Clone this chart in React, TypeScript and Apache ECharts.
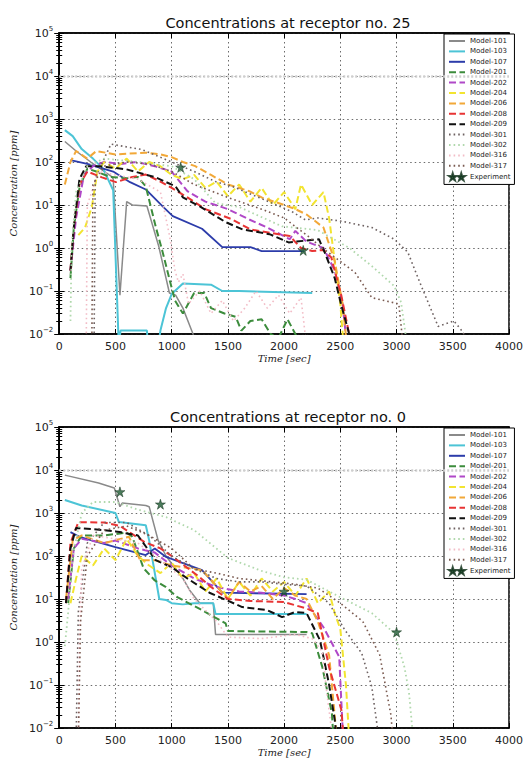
import React, { useEffect, useRef } from "react";
import * as echarts from "echarts";

// ---------- names ----------
const MODELS = [
  "Model-101", "Model-103", "Model-107", "Model-201", "Model-202", "Model-204", "Model-206",
  "Model-208", "Model-209", "Model-301", "Model-302", "Model-316", "Model-317",
];
const EXP = "Experiment";
const TITLES = ["Concentrations at receptor no. 25", "Concentrations at receptor no. 0"];

// ---------- receptor 25 : [time sec, concentration ppm] ----------
const r25_101 = [[50, 300], [150, 180], [280, 100], [470, 45], [480, 40], [540, 0.08], [600, 12], [650, 10], [780, 9.5], [885, 1.1], [980, 0.09], [1035, 0.08], [1100, 0.04], [1190, 0.01], [1220, 0.005]];
const r25_103 = [[50, 550], [120, 400], [200, 200], [300, 120], [390, 70], [480, 22], [530, 0.005], [545, 0.012], [780, 0.012], [790, 0.005], [880, 0.005], [900, 0.012], [950, 0.04], [1000, 0.085], [1100, 0.15], [1350, 0.14], [1450, 0.1], [1600, 0.1], [2250, 0.09]];
const r25_107 = [[100, 110], [250, 90], [480, 60], [630, 34], [770, 23], [920, 9.3], [1010, 5.5], [1270, 2.8], [1450, 1.05], [1700, 1.05], [1800, 0.85], [2180, 0.85]];
const r25_201 = [[100, 0.2], [130, 3], [180, 25], [250, 70], [330, 60], [450, 45], [600, 42], [700, 45], [770, 27], [860, 3], [920, 0.8], [980, 0.19], [1030, 0.06], [1100, 0.03], [1200, 0.09], [1290, 0.09], [1350, 0.04], [1470, 0.03], [1570, 0.025], [1620, 0.012], [1700, 0.02], [1800, 0.022], [1880, 0.01], [1950, 0.008], [2030, 0.022], [2100, 0.01], [2150, 0.005]];
const r25_202 = [[100, 0.3], [150, 5], [220, 50], [300, 80], [400, 100], [550, 90], [690, 100], [850, 80], [1000, 60], [1140, 21], [1300, 12], [1500, 8], [1690, 4.6], [1850, 3], [2050, 1.6], [2100, 2.5], [2200, 1.4], [2350, 1], [2450, 0.3], [2520, 0.05], [2560, 0.005]];
const r25_204 = [[170, 2], [230, 3], [290, 9], [340, 60], [400, 100], [500, 70], [600, 120], [700, 60], [800, 100], [900, 80], [1000, 50], [1100, 40], [1200, 50], [1300, 25], [1400, 35], [1500, 16], [1600, 30], [1700, 12], [1800, 25], [1900, 10], [2000, 20], [2100, 8], [2150, 30], [2250, 10], [2350, 20], [2400, 5], [2450, 0.5], [2500, 0.05], [2530, 0.005]];
const r25_206 = [[50, 30], [100, 100], [150, 180], [250, 120], [330, 180], [500, 150], [770, 165], [900, 150], [1000, 130], [1100, 100], [1210, 80], [1350, 50], [1500, 30], [1690, 21], [1800, 15], [2000, 10], [2100, 8], [2200, 6], [2350, 3], [2450, 0.5], [2520, 0.05], [2560, 0.005]];
const r25_208 = [[100, 0.3], [130, 3], [180, 30], [250, 60], [380, 44], [505, 34], [650, 45], [770, 51], [900, 35], [1000, 25], [1140, 15], [1300, 8], [1540, 4.6], [1700, 2.7], [1900, 2.2], [2050, 1.9], [2150, 1.0], [2250, 0.85], [2350, 0.9], [2420, 0.6], [2510, 0.076], [2575, 0.011], [2590, 0.005]];
const r25_209 = [[100, 0.3], [130, 3], [180, 40], [240, 80], [354, 80], [593, 68], [858, 44], [1035, 27], [1100, 15], [1250, 9.3], [1480, 4], [1630, 2.7], [1870, 2.1], [2040, 1.35], [2100, 1.4], [2310, 1.6], [2360, 0.8], [2450, 0.2], [2510, 0.045], [2575, 0.011], [2590, 0.005]];
const r25_301 = [[310, 0.005], [320, 40], [400, 120], [460, 260], [735, 195], [1000, 100], [1200, 60], [1390, 35], [1540, 27], [1830, 13], [2070, 7], [2190, 4.5], [2300, 5], [2510, 4.2], [2780, 3], [2980, 1.6], [3100, 0.8], [3220, 0.13], [3370, 0.015], [3510, 0.02], [3580, 0.012], [3620, 0.008]];
const r25_302 = [[100, 0.02], [110, 1], [150, 20], [250, 80], [400, 120], [700, 100], [1000, 80], [1200, 40], [1390, 11], [1600, 9], [1980, 3.2], [2300, 2.6], [2580, 1], [2780, 0.38], [2980, 0.13], [3040, 0.055], [3080, 0.01], [3100, 0.005]];
const r25_316 = [[240, 0.005], [250, 10], [350, 60], [500, 50], [700, 40], [900, 20], [980, 2], [1030, 0.3], [1060, 0.16], [1100, 0.25], [1150, 0.05], [1250, 0.1], [1350, 0.03], [1450, 0.06], [1550, 0.02], [1650, 0.04], [1750, 0.1], [1850, 0.04], [1950, 0.08], [2050, 0.03], [2150, 0.07], [2200, 0.005]];
const r25_317 = [[290, 0.005], [300, 30], [400, 80], [600, 100], [800, 90], [1000, 60], [1200, 30], [1500, 15], [1800, 8], [2000, 5], [2200, 2], [2340, 1], [2630, 0.27], [2780, 0.07], [3020, 0.05], [3060, 0.005]];
const r25_exp = [[1080, 75], [2170, 0.88]];

// ---------- receptor 0 ----------
const r0_101 = [[50, 7600], [350, 5000], [490, 3800], [540, 1400], [560, 1700], [770, 1500], [800, 1400], [880, 230], [950, 100], [1100, 30], [1160, 16], [1250, 8], [1370, 8], [1390, 1.5], [2200, 1.5]];
const r0_103 = [[50, 2000], [200, 1500], [500, 1000], [530, 620], [770, 520], [800, 230], [890, 10], [950, 9.5], [1000, 8], [1100, 7.5], [1200, 8], [1370, 8], [1390, 4.5], [2200, 4.5]];
const r0_107 = [[100, 360], [180, 280], [500, 160], [770, 105], [850, 150], [950, 95], [1270, 47], [1450, 14], [2200, 13]];
const r0_201 = [[80, 8], [130, 150], [200, 300], [400, 300], [600, 350], [650, 280], [750, 52], [850, 27], [950, 19], [1050, 11], [1270, 5.5], [1480, 2.7], [1500, 1.8], [2200, 1.7], [2250, 1.6], [2340, 0.26], [2425, 0.022], [2440, 0.005]];
const r0_202 = [[80, 10], [130, 150], [200, 250], [400, 200], [500, 230], [700, 150], [850, 120], [1000, 60], [1200, 30], [1400, 19], [1600, 15], [1800, 14], [2000, 12], [2100, 10], [2200, 8], [2350, 2.2], [2490, 0.45], [2520, 0.01], [2530, 0.005]];
const r0_204 = [[100, 8], [150, 30], [200, 100], [300, 60], [400, 150], [500, 80], [600, 250], [700, 100], [800, 60], [900, 40], [1000, 70], [1100, 30], [1200, 40], [1300, 15], [1400, 30], [1500, 10], [1600, 25], [1700, 12], [1800, 30], [1900, 15], [2000, 25], [2100, 12], [2200, 30], [2300, 8], [2400, 15], [2450, 4.7], [2500, 2], [2550, 0.1], [2580, 0.005]];
const r0_206 = [[60, 10], [120, 230], [200, 300], [400, 200], [620, 280], [720, 80], [850, 80], [1000, 60], [1270, 47], [1400, 20], [1500, 10], [1600, 25], [1700, 15], [1800, 20], [1900, 10], [2000, 18], [2100, 12], [2200, 10], [2300, 3], [2400, 0.5], [2460, 0.01], [2470, 0.005]];
const r0_208 = [[60, 8], [100, 200], [170, 610], [400, 600], [540, 500], [760, 210], [900, 150], [1000, 100], [1250, 32], [1350, 19], [1500, 10], [1700, 9], [2000, 8.5], [2200, 6], [2300, 4.7], [2400, 0.26], [2510, 0.026], [2530, 0.005]];
const r0_209 = [[60, 8], [100, 150], [150, 450], [400, 400], [540, 360], [700, 300], [858, 80], [1000, 55], [1124, 32], [1336, 14], [1628, 6.5], [1850, 5.5], [1982, 3.8], [2100, 5], [2200, 4.7], [2319, 1.1], [2398, 0.11], [2451, 0.015], [2470, 0.005]];
const r0_301 = [[150, 0.005], [170, 5], [250, 200], [400, 600], [600, 600], [800, 300], [1000, 100], [1200, 50], [1400, 30], [1600, 25], [1800, 25], [2000, 22], [2200, 20], [2400, 8], [2540, 1.9], [2690, 0.55], [2780, 0.09], [2830, 0.01], [2850, 0.005]];
const r0_302 = [[50, 0.8], [80, 5], [120, 100], [200, 1000], [300, 1800], [500, 1800], [700, 1200], [950, 800], [1200, 400], [1500, 90], [1800, 45], [2000, 32], [2200, 28], [2500, 11], [2780, 4.7], [2980, 1.6], [3070, 0.26], [3110, 0.07], [3150, 0.005]];
const r0_316 = [[170, 0.005], [180, 1], [200, 50], [300, 300], [500, 250], [700, 200], [900, 80], [1100, 30], [1200, 10], [1400, 3], [1500, 1.3], [1800, 1.2], [2100, 1.5], [2250, 1.2], [2340, 0.6], [2380, 0.065], [2420, 0.01], [2430, 0.005]];
const r0_317 = [[170, 0.005], [190, 3], [250, 100], [400, 400], [600, 500], [800, 300], [1000, 150], [1200, 50], [1400, 40], [1600, 30], [1900, 25], [2100, 22], [2300, 18], [2500, 8], [2700, 3], [2850, 0.5], [2950, 0.02], [2970, 0.005]];
const r0_exp = [[540, 3100], [900, 1600], [2000, 15], [3000, 1.7]];

const PLOT_DATA = [
  [r25_101, r25_103, r25_107, r25_201, r25_202, r25_204, r25_206, r25_208, r25_209, r25_301, r25_302, r25_316, r25_317],
  [r0_101, r0_103, r0_107, r0_201, r0_202, r0_204, r0_206, r0_208, r0_209, r0_301, r0_302, r0_316, r0_317],
];
const EXP_DATA = [r25_exp, r0_exp];

// ---------- styles ----------
const DASH = [7, 3.5];
const DOT = [1.6, 3];
const STYLE: Record<string, { color: string; type: any; width: number }> = {
  "Model-101": { color: "#8a8a8a", type: "solid", width: 1.5 },
  "Model-103": { color: "#4cc4d6", type: "solid", width: 2 },
  "Model-107": { color: "#2c3caa", type: "solid", width: 1.8 },
  "Model-201": { color: "#3c8c3c", type: DASH, width: 2 },
  "Model-202": { color: "#b048c8", type: DASH, width: 2 },
  "Model-204": { color: "#f2e430", type: DASH, width: 2 },
  "Model-206": { color: "#f2a838", type: DASH, width: 2 },
  "Model-208": { color: "#e83434", type: DASH, width: 2 },
  "Model-209": { color: "#111111", type: DASH, width: 2 },
  "Model-301": { color: "#6e6262", type: DOT, width: 1.6 },
  "Model-302": { color: "#b0d8ac", type: DOT, width: 1.8 },
  "Model-316": { color: "#f2bcc6", type: DOT, width: 1.6 },
  "Model-317": { color: "#7a5a50", type: DOT, width: 1.6 },
};
const STAR = "path://M50,2 L61,37 L98,37 L68,59 L79,95 L50,73 L21,95 L32,59 L2,37 L39,37 Z";
const TWO_STARS =
  "path://M50,2 L61,37 L98,37 L68,59 L79,95 L50,73 L21,95 L32,59 L2,37 L39,37 Z " +
  "M160,2 L171,37 L208,37 L178,59 L189,95 L160,73 L131,95 L142,59 L112,37 L149,37 Z";

const GRID_TOPS = [33, 427];

function sup(e: number) {
  return e < 0 ? "\u2212" + -e : String(e);
}

function buildOption() {
  const grid = GRID_TOPS.map((top) => ({
    left: 56, top, width: 453, height: 301, show: true,
    borderColor: "#000", borderWidth: 1.5, backgroundColor: "transparent",
  }));
  const xAxis: any[] = [];
  const yAxis: any[] = [];
  GRID_TOPS.forEach((_, gi) => {
    xAxis.push({
      type: "value", gridIndex: gi, min: 0, max: 4000, interval: 500,
      axisLine: { show: true, lineStyle: { color: "#000", width: 1.5 } },
      axisTick: { show: true, inside: true, length: 5, lineStyle: { color: "#000" } },
      axisLabel: { color: "#222", fontSize: 11, margin: 7, fontFamily: "DejaVu Sans",
        formatter: (v: number) => String(v) },
      splitLine: { show: true, lineStyle: { color: "#6a6a6a", type: [1.5, 3], width: 1 } },
      name: "Time [sec]", nameLocation: "middle", nameGap: 19,
      nameTextStyle: { fontFamily: "DejaVu Serif", fontStyle: "italic", fontSize: 10, color: "#222" },
    });
    xAxis.push({
      type: "value", gridIndex: gi, min: 0, max: 4000, interval: 500, position: "top",
      axisLine: { show: true, lineStyle: { color: "#000", width: 1.5 } },
      axisTick: { show: true, inside: true, length: 5, lineStyle: { color: "#000" } },
      axisLabel: { show: false }, splitLine: { show: false },
    });
    const yBase = {
      type: "log", logBase: 10, gridIndex: gi, min: 0.01, max: 100000, splitNumber: 7,
      axisLine: { show: true, lineStyle: { color: "#000", width: 1.5 } },
      axisTick: { show: true, inside: true, length: 5, lineStyle: { color: "#000" } },
      minorTick: { show: true, splitNumber: 9, length: 3, lineStyle: { color: "#000" } },
    };
    yAxis.push({
      ...yBase,
      axisLabel: {
        color: "#222", margin: 6,
        formatter: (v: number) => `{b|10}{s|${sup(Math.round(Math.log10(v)))}}`,
        rich: {
          b: { fontSize: 11, fontFamily: "DejaVu Sans", color: "#222" },
          s: { fontSize: 7, fontFamily: "DejaVu Sans", color: "#222", padding: [0, 0, 8, 0] },
        },
      },
      splitLine: { show: true, lineStyle: { color: "#6a6a6a", type: [1.5, 3], width: 1 } },
      name: "Concentration [ppm]", nameLocation: "middle", nameGap: 34, nameRotate: 90,
      nameTextStyle: { fontFamily: "DejaVu Serif", fontStyle: "italic", fontSize: 10, color: "#222" },
    });
    yAxis.push({
      ...yBase, position: "right",
      axisLabel: { show: false }, splitLine: { show: false },
    });
  });

  const series: any[] = [];
  PLOT_DATA.forEach((list, gi) => {
    list.forEach((data, mi) => {
      const name = MODELS[mi];
      const s = STYLE[name];
      series.push({
        type: "line", name, data, xAxisIndex: gi * 2, yAxisIndex: gi * 2,
        symbol: "none", showSymbol: false, clip: true,
        lineStyle: { color: s.color, width: s.width, type: s.type },
        itemStyle: { color: s.color },
      });
    });
    series.push({
      type: "scatter", name: EXP, data: EXP_DATA[gi], xAxisIndex: gi * 2, yAxisIndex: gi * 2,
      symbol: STAR, symbolSize: 10, z: 5,
      itemStyle: { color: "#1e5a32", borderColor: "#0a2a14", borderWidth: 0.6 },
      markLine: {
        silent: true, symbol: "none", label: { show: false },
        lineStyle: { color: "#cfcfcf", type: [2, 2], width: 2.5 },
        data: [{ yAxis: 10000 }],
      },
    });
  });

  const legendData = [
    ...MODELS.map((name) => ({ name, itemStyle: { opacity: 0 } })),
    { name: EXP, icon: TWO_STARS },
  ];
  const legend = GRID_TOPS.map((top) => ({
    data: legendData, orient: "vertical", left: 444, top: top + 1,
    itemWidth: 16, itemHeight: 8, itemGap: 2.4,
    padding: [3, 4, 3, 4], backgroundColor: "#fff", borderColor: "#000", borderWidth: 1,
    textStyle: { fontSize: 7, color: "#222", fontFamily: "DejaVu Sans", lineHeight: 8 },
    selectedMode: false,
  }));

  const title = TITLES.map((text, i) => ({
    text, left: 283, top: i === 0 ? 10 : 404, textAlign: "center",
    textStyle: { fontSize: 14.5, fontWeight: "normal", color: "#111", fontFamily: "DejaVu Sans" },
  }));

  return { animation: false, backgroundColor: "#fff", title, grid, xAxis, yAxis, legend, series };
}

export default function App() {
  const ref = useRef<HTMLDivElement>(null);
  useEffect(() => {
    document.body.style.margin = "0";
    const chart = echarts.init(ref.current!, null, { renderer: "svg" });
    chart.setOption(buildOption() as any);
    return () => chart.dispose();
  }, []);
  return <div ref={ref} style={{ width: 526, height: 765 }} />;
}
